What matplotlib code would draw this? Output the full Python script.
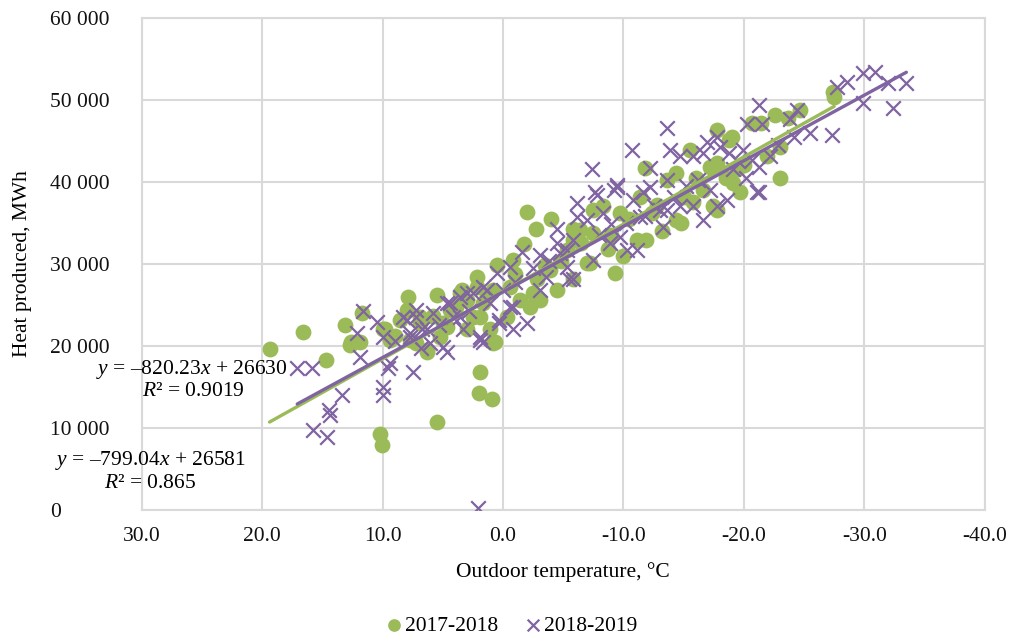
import numpy as np
import matplotlib
matplotlib.use("Agg")
import matplotlib.pyplot as plt
from matplotlib.ticker import FuncFormatter

plt.rcParams['font.family'] = ['Liberation Serif', 'DejaVu Serif']
plt.rcParams['mathtext.fontset'] = 'custom'
plt.rcParams['mathtext.rm'] = 'Liberation Serif'
plt.rcParams['mathtext.it'] = 'Liberation Serif:italic'

# 2017-2018 : (outdoor temperature, heat produced)
temp_1718 = [19.4, 16.6, 14.7, 13.1, 12.6, 11.7, 10.0, 9.4, 10.2, 10.1, 5.5, 7.9, 5.5, 1.9, 2.0, 0.9,
             -2.0, -4.0, -2.7, -1.7, 0.5, -23.0, -19.7, -27.4, -27.5, -24.7, -23.7, -22.6, -20.7, -21.4,
             -17.8, -19.0, -11.8, -9.3, 3.4, 2.2, -0.8, -2.5, -3.1, -2.2, 0.7, 1.9, 3.0, 5.0, 6.9, 6.3,
             7.7, 5.2, -4.5, -3.9, -5.8, -7.0, -7.5, -5.8, -5.3, -0.6, -1.4, 1.7, 4.4, 8.0, -7.5, -6.4,
             -10.0, -11.1, -11.9, -11.4, -13.6, -14.4, -15.5, -14.4, -14.8, -17.4, -17.8, -19.1, -18.8,
             -17.8, -16.6, -12.4, -9.7, -8.3, -7.2, -5.8, -19.4, -21.9, -23.0, -17.2, 3.6, 3.0, 2.2,
             0.8, 11.9, 12.7, 9.8, 8.6, 6.9, 7.2, 6.3, 0.8, 4.7, 2.5, 1.1, -0.3, -9.0, -10.5, -12.8,
             -13.2, -15.0, -16.0, -15.8, -20.0, -18.5, -8.7, -6.5, -4.8, -3.5, -2.8, -1.0, 1.3, 3.9,
             5.8, 9.0]
heat_1718 = [19600, 21700, 18300, 22600, 20500, 24000, 22000, 20700, 9200, 7900, 10700, 25900, 26200,
             16800, 14300, 13500, 36300, 35500, 34300, 32400, 29900, 40500, 38800, 51000, 50300, 48800,
             47800, 48200, 47200, 47200, 46300, 45500, 41700, 28900, 26800, 28400, 30500, 26500, 25600,
             24800, 20500, 23500, 22000, 22800, 22800, 19500, 20700, 21100, 26800, 29300, 28100, 30100,
             33800, 34200, 31700, 27200, 25600, 25200, 24400, 24400, 36600, 34100, 30900, 32900, 32900,
             38200, 40200, 41100, 43900, 35400, 35000, 37000, 36600, 39900, 45100, 42300, 39000, 36200,
             36200, 37000, 30100, 32900, 41500, 43100, 44300, 41800, 26500, 25600, 27200, 26800, 20500,
             20100, 22000, 23200, 23500, 20400, 19300, 20400, 22300, 23500, 22000, 23500, 33500, 35500,
             37200, 34000, 38200, 40500, 37500, 42000, 40500, 31800, 32500, 30400, 29800, 28200, 28800,
             26200, 24800, 23600, 21200]

# 2018-2019
temp_1819 = [17.1, 15.9, 15.8, 14.6, 14.5, 14.4, 13.4, 11.6, 10.5, 12.1, 11.9, 10.0, 9.4, 9.6, 7.5,
             10.0, 10.0, 8.3, 7.7, 7.2, 6.7, 6.1, 4.7, 3.6, 4.4, 3.0, 1.9, 1.7, -0.8, 0.3, 1.3, -0.8,
             2.1, -7.4, -10.7, -7.6, -21.3, -27.3, -21.3, -29.9, -32.4, -33.5, -32.0, -30.9, -29.9,
             -28.6, -27.7, -13.6, -6.1, -7.8, -7.0, -4.5, -3.1, -1.6, -4.5, -5.3, -5.8, -7.5, -0.6, 0.5,
             0.0, 1.7, 2.5, 3.6, 4.7, 4.2, 3.3, 1.9, -2.0, 0.3, -0.6, 1.1, 5.8, 7.2, 8.0, 6.3, 5.0, 7.7,
             -3.6, -3.1, -13.9, -14.7, -15.8, -16.6, -16.9, -17.8, -19.9, -20.7, -12.2, -13.6, -11.6,
             -9.5, -9.2, -10.8, -13.0, -13.6, -14.7, -15.8, -16.6, -17.2, -18.6, -19.1, -17.8, -13.3,
             -11.4, -9.7, -8.9, -10.3, -11.1, -6.1, -5.3, -5.8, -5.5, -4.7, -8.3, -21.1, -21.5, -20.3,
             -24.4, -24.2, -23.8, -21.3, -22.2, -18.0, -18.8, -12.2, -9.5, -2.5, -1.0, -3.8, -8.0, -9.0,
             -10.2, -11.8, -12.5, -14.2, -15.2, -16.2, -19.5, -20.2, -22.8, -25.5, 2.8, 5.3, 6.8, 9.0]
heat_1819 = [17300, 17300, 9800, 8900, 12200, 11600, 14000, 24200, 22900, 21600, 18700, 21100, 17900,
             17300, 16800, 15000, 14000, 23500, 21600, 23500, 22000, 20400, 19300, 23500, 25200, 26500,
             21100, 20500, 22000, 23200, 26800, 24800, 300, 41500, 43900, 38700, 49400, 45700, 38700,
             49600, 49000, 52100, 52100, 53400, 53300, 52200, 51500, 46600, 37400, 38400, 35400, 34200,
             31100, 31500, 32600, 29600, 28100, 30500, 29600, 28900, 26800, 27200, 26500, 26000, 25200,
             23500, 22000, 20700, 22800, 22800, 24800, 25200, 24000, 24400, 23200, 22000, 19900, 21100,
             28400, 26800, 43900, 43100, 43100, 43500, 44800, 45500, 43900, 42700, 39400, 40200, 38700,
             39400, 39000, 37800, 36600, 36600, 37000, 37000, 35400, 39000, 37800, 41500, 37000, 34500,
             35700, 33300, 32600, 31700, 31700, 35700, 31700, 32900, 28100, 31300, 36200, 38800, 47000,
             47000, 48800, 45400, 47600, 41800, 43100, 44300, 43500, 41700, 39600, 29500, 27800, 30300,
             33500, 34800, 35000, 35800, 37000, 38200, 39500, 40200, 42500, 40500, 44500, 46000, 24200,
             22500, 19800, 20600]

# Excel trendline coefficients (from chart labels)
slope_1718, icpt_1718 = -820.23, 26630
slope_1819, icpt_1819 = -799.04, 26581

green = '#9BBB59'
purple = '#8064A2'
fs = 15.5

fig = plt.figure(figsize=(10.14, 6.41), dpi=100)
ax = fig.add_axes([0.140, 0.2044, 0.831, 0.768])

ax.scatter(temp_1718, heat_1718, s=130, c=green, marker='o', linewidths=0, zorder=3, label='2017-2018')
ax.scatter(temp_1819, heat_1819, s=110, c=purple, marker='x', linewidths=1.6, zorder=4, label='2018-2019')

t1 = np.array([max(temp_1718), min(temp_1718)])
ax.plot(t1, slope_1718 * t1 + icpt_1718, color=green, lw=2.4, zorder=5, solid_capstyle='round')
t2 = np.array([max(temp_1819), min(temp_1819)])
ax.plot(t2, slope_1819 * t2 + icpt_1819, color=purple, lw=2.4, zorder=6, solid_capstyle='round')

ax.set_xlim(30, -40)
ax.set_ylim(0, 60000)
ax.set_xticks(np.arange(30, -41, -10))
ax.set_yticks(np.arange(0, 60001, 10000))
ax.xaxis.set_major_formatter(FuncFormatter(lambda v, p: '%.1f' % v))
ax.yaxis.set_major_formatter(FuncFormatter(lambda v, p: '{:,}'.format(int(v)).replace(',', ' ')))
ax.tick_params(length=0, labelsize=fs, colors='#111111', pad=12)
ax.tick_params(axis='y', pad=66)
for lab in ax.get_yticklabels():
    lab.set_horizontalalignment('left')
ax.grid(True, color='#d9d9d9', lw=1.5)
ax.set_axisbelow(True)
for sp in ax.spines.values():
    sp.set_color('#d9d9d9')
    sp.set_linewidth(1.5)

ax.set_xlabel('Outdoor temperature, °C', fontsize=fs, labelpad=12)
ax.set_ylabel('Heat produced, MWh', fontsize=fs)
ax.yaxis.set_label_coords(-0.13, 0.5)

H = 641.0
fig.text(192 / 1014, 1 - 370 / H, '$y$ = –820.23$x$ + 26630', fontsize=fs, ha='center', va='center')
fig.text(193 / 1014, 1 - 392 / H, '$R$² = 0.9019', fontsize=fs, ha='center', va='center')
fig.text(150 / 1014, 1 - 461 / H, '$y$ = –799.04$x$ + 26581', fontsize=fs, ha='center', va='center')
fig.text(150 / 1014, 1 - 484 / H, '$R$² = 0.865', fontsize=fs, ha='center', va='center')

fig.legend(loc='lower center', ncol=2, frameon=False, fontsize=fs, bbox_to_anchor=(0.5, -0.022),
           handletextpad=-0.3, handlelength=1.6, columnspacing=0.8, markerscale=0.8)

fig.savefig('out.png', dpi=100)
